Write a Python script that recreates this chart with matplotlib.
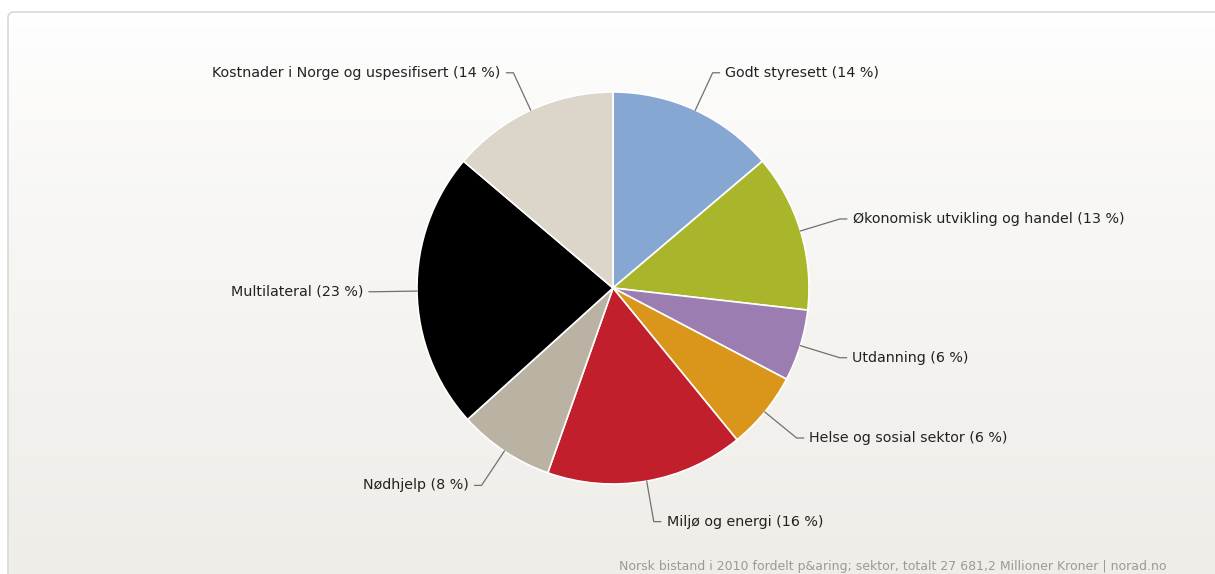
import numpy as np
import matplotlib.pyplot as plt
from matplotlib.patches import FancyBboxPatch

# Norsk bistand 2010, andel per sektor [%]
sektorer = ["Godt styresett", "Økonomisk utvikling og handel", "Utdanning",
            "Helse og sosial sektor", "Miljø og energi", "Nødhjelp",
            "Multilateral", "Kostnader i Norge og uspesifisert"]
andel = [13.8, 13.0, 5.9, 6.4, 16.3, 7.9, 22.9, 13.8]
farger = ["#87a7d3", "#a9b62b", "#9c7db1", "#d9961b", "#c01f2b",
          "#bab3a3", "#000000", "#dcd6ca"]
kilde = "Norsk bistand i 2010 fordelt p&aring; sektor, totalt 27 681,2 Millioner Kroner | norad.no"

W, H = 1215, 574
cx, cy, R = 613, 288, 196

fig = plt.figure(figsize=(W / 100, H / 100), dpi=100)

# background with soft gradient inside a frame
bg = fig.add_axes([0, 0, 1, 1])
bg.set_xlim(0, W)
bg.set_ylim(H, 0)
bg.axis("off")
grad = np.linspace(0, 1, 256)[:, None]
top = np.array([1.0, 1.0, 1.0])
bot = np.array([0xef, 0xed, 0xe8]) / 255
img = top + (bot - top) * grad[..., None] ** 0.8
bg.imshow(img, extent=[8, W + 20, H, 12], aspect="auto", zorder=0)
frame = FancyBboxPatch((8, 12), W + 40, H + 40, boxstyle="round,pad=0,rounding_size=6",
                       fc="none", ec="#d9d9d9", lw=1.2, zorder=1)
bg.add_patch(frame)

# pie axes, one data unit = R pixels
ax = fig.add_axes([0, 0, 1, 1])
ax.patch.set_alpha(0)
wedges, _ = ax.pie(andel, colors=farger, startangle=90, counterclock=False,
                   radius=1, wedgeprops=dict(edgecolor="white", linewidth=1.2))
ax.set_xlim(-cx / R, (W - cx) / R)
ax.set_ylim(-(H - cy) / R, cy / R)
ax.axis("off")

# labels with connectors
for w, navn, v in zip(wedges, sektorer, andel):
    ang = np.deg2rad((w.theta1 + w.theta2) / 2)
    x0, y0 = np.cos(ang), np.sin(ang)
    x1, y1 = 1.21 * x0, 1.21 * y0
    side = 1 if x0 >= 0 else -1
    x2 = x1 + side * 0.035
    ax.plot([x0, x1, x2], [y0, y1, y1], color="#707070", lw=0.9)
    ax.text(x1 + side * 0.065, y1, f"{navn} ({round(v)} %)",
            ha="left" if side > 0 else "right", va="center",
            fontsize=10.3, color="#222222")

fig.text(619 / W, 1 - 570 / H, kilde, fontsize=9, color="#9a9a9a",
         ha="left", va="baseline")

plt.savefig("out.png", dpi=100)
